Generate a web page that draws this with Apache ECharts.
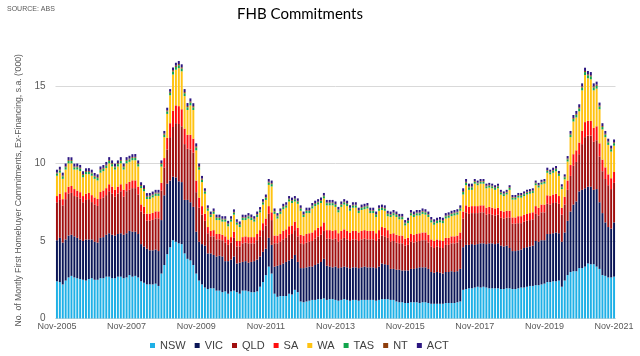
<!DOCTYPE html>
<html>
<head>
<meta charset="utf-8">
<script src="https://cdn.jsdelivr.net/npm/echarts@6/dist/echarts.min.js"></script>
<style>html,body{margin:0;padding:0;background:#fff}#c{width:640px;height:356px}</style>
</head>
<body>
<div id="c"></div>
<script>
// Monthly categories Nov-2005 .. Nov-2021
const monthNames = ['Jan','Feb','Mar','Apr','May','Jun','Jul','Aug','Sep','Oct','Nov','Dec'];
const categories = [];
for (let k = 0; k < 193; k++) {
  const m = (10 + k) % 12, y = 2005 + Math.floor((10 + k) / 12);
  categories.push(monthNames[m] + '-' + y);
}
const yTicks = [0, 5, 10, 15];

const nsw = [
2.4,2.35,2.2,2.45,2.65,2.75,2.65,2.6,2.55,2.5,2.45,2.55,
2.6,2.5,2.5,2.6,2.6,2.7,2.7,2.6,2.6,2.7,2.7,2.6,
2.65,2.8,2.7,2.75,2.65,2.4,2.3,2.2,2.2,2.2,2.25,2.1,
2.9,3.45,4.15,4.6,5.05,4.95,4.85,4.8,4.2,3.85,3.75,3.45,
2.9,2.45,2.2,2.0,1.9,1.95,1.95,1.8,1.8,1.7,1.75,1.6,
1.75,1.8,1.7,1.6,1.8,1.8,1.75,1.7,1.7,1.75,2.05,2.35,
2.8,3.35,2.9,1.6,1.4,1.45,1.45,1.45,1.6,1.55,1.85,1.7,
1.1,1.05,1.1,1.15,1.2,1.2,1.25,1.25,1.3,1.2,1.25,1.25,
1.2,1.15,1.2,1.25,1.2,1.15,1.2,1.2,1.15,1.2,1.2,1.2,
1.2,1.2,1.15,1.2,1.25,1.25,1.25,1.2,1.2,1.1,1.05,1.05,
1.0,1.0,1.05,1.05,1.05,1.0,1.05,1.05,1.0,0.95,0.95,0.95,
0.95,0.95,1.0,1.0,1.0,1.0,1.05,1.1,1.85,1.9,1.95,1.95,
2.0,2.05,2.0,2.05,2.0,1.95,1.95,1.95,1.95,1.9,1.9,1.95,
1.95,1.9,1.9,1.95,2.0,2.0,2.05,2.1,2.1,2.15,2.15,2.2,
2.25,2.35,2.35,2.4,2.4,2.45,2.05,2.45,2.8,3.0,3.05,3.05,
3.25,3.25,3.35,3.55,3.5,3.5,3.35,3.2,2.8,2.75,2.65,2.65,
2.7];
const vic = [
2.65,2.85,2.7,2.65,2.7,2.65,2.65,2.6,2.55,2.5,2.65,2.55,
2.5,2.45,2.4,2.6,2.65,2.7,2.8,2.8,2.75,2.75,2.8,2.8,
2.85,2.85,2.9,2.85,2.8,2.4,2.35,2.3,2.2,2.2,2.2,2.25,
3.45,4.5,4.55,4.3,4.1,4.15,4.0,4.0,3.45,3.8,3.75,3.75,
2.7,2.5,2.6,2.7,2.3,2.25,2.15,2.2,2.25,2.3,1.95,2.1,
2.05,2.2,1.85,2.0,1.85,1.9,1.85,1.95,2.0,2.05,1.95,1.95,
1.7,1.85,1.85,1.75,2.0,2.0,2.1,2.2,2.15,2.3,2.25,1.95,
2.15,2.2,2.2,2.2,2.15,2.25,2.3,2.4,2.55,2.2,2.1,2.05,
2.15,2.1,2.1,2.1,2.1,2.1,2.1,2.1,2.1,2.1,2.15,2.1,
2.1,2.1,2.1,2.15,2.3,2.25,2.2,2.0,2.0,2.05,2.1,2.05,
2.1,2.1,2.15,2.15,2.2,2.3,2.25,2.25,2.2,2.05,2.0,2.05,
2.0,1.95,2.0,2.0,2.05,2.0,2.0,2.1,2.75,2.85,2.8,2.85,
2.75,2.75,2.85,2.8,2.8,2.9,2.9,2.85,2.9,2.8,2.75,2.75,
2.6,2.45,2.45,2.45,2.45,2.55,2.55,2.55,2.6,2.85,2.8,2.85,
2.8,3.1,3.1,3.1,3.15,3.05,2.9,3.1,3.5,3.9,4.3,4.5,
4.95,5.05,5.05,4.95,5.0,4.8,5.0,4.3,4.0,3.45,3.25,3.15,
3.5];
const qld = [
2.45,2.45,2.4,2.6,2.7,2.7,2.6,2.65,2.65,2.5,2.55,2.6,
2.41,2.41,2.36,2.51,2.56,2.56,2.71,2.66,2.51,2.61,2.71,2.46,
2.71,2.66,2.81,2.81,2.56,2.11,2.11,1.81,1.91,1.96,2.01,2.11,
1.9,1.8,2.2,2.8,3.2,3.5,3.7,3.6,3.6,3.3,3.4,3.5,
2.55,2.2,1.9,1.6,1.3,1.1,1.2,1.1,1.05,1.05,1.2,1.05,
1.1,1.2,1.1,1.05,1.2,1.2,1.25,1.2,1.15,1.25,1.3,1.4,
1.5,1.55,1.6,1.5,1.45,1.5,1.55,1.55,1.65,1.6,1.6,1.65,
1.6,1.55,1.6,1.6,1.65,1.7,1.75,1.75,1.8,1.75,1.8,1.8,
1.8,1.7,1.8,1.85,1.8,1.75,1.8,1.8,1.75,1.8,1.8,1.8,
1.8,1.8,1.75,1.8,1.8,1.8,1.75,1.75,1.8,1.75,1.7,1.75,
1.6,1.65,1.75,1.7,1.7,1.7,1.75,1.75,1.7,1.65,1.6,1.65,
1.65,1.65,1.75,1.75,1.8,1.85,1.85,1.9,1.85,2.1,2.0,2.0,
2.05,2.0,2.0,2.0,1.9,1.9,1.85,1.85,1.85,1.8,1.8,1.8,
1.95,1.77,1.77,1.75,1.7,1.7,1.7,1.7,1.7,1.75,1.7,1.8,
1.8,1.95,1.9,1.95,1.95,1.9,1.75,1.8,2.0,2.3,2.5,2.55,
2.4,2.95,3.3,3.3,3.3,3.1,3.15,2.95,2.7,2.8,2.7,2.55,
2.55];
const sa = [
0.4,0.4,0.4,0.45,0.45,0.45,0.45,0.4,0.4,0.4,0.4,0.4,
0.45,0.45,0.45,0.45,0.45,0.45,0.45,0.45,0.45,0.45,0.45,0.45,
0.5,0.5,0.5,0.5,0.5,0.45,0.45,0.45,0.45,0.45,0.45,0.45,
0.5,0.6,0.75,0.9,1.05,1.15,1.15,1.1,1.0,0.9,0.95,0.9,
0.75,0.65,0.55,0.45,0.4,0.35,0.4,0.35,0.35,0.35,0.4,0.35,
0.35,0.4,0.35,0.35,0.4,0.4,0.4,0.4,0.4,0.4,0.4,0.45,
0.45,0.5,0.5,0.5,0.5,0.5,0.55,0.55,0.55,0.55,0.55,0.55,
0.55,0.55,0.55,0.55,0.55,0.55,0.55,0.55,0.55,0.55,0.55,0.55,
0.55,0.55,0.55,0.55,0.55,0.55,0.55,0.55,0.55,0.55,0.55,0.55,
0.55,0.55,0.5,0.55,0.55,0.55,0.5,0.5,0.5,0.5,0.5,0.5,
0.45,0.45,0.5,0.5,0.5,0.5,0.5,0.5,0.5,0.45,0.45,0.45,
0.45,0.45,0.45,0.45,0.45,0.45,0.45,0.45,0.45,0.45,0.45,0.45,
0.45,0.45,0.45,0.45,0.45,0.45,0.45,0.45,0.45,0.45,0.45,0.45,
0.45,0.4,0.4,0.45,0.45,0.45,0.45,0.45,0.45,0.5,0.5,0.5,
0.5,0.55,0.55,0.55,0.55,0.5,0.45,0.5,0.6,0.7,0.75,0.75,
0.75,0.87,0.97,0.95,0.95,0.9,0.9,0.85,0.75,0.75,0.7,0.7,
0.7];
const wa = [
1.31,1.36,1.31,1.46,1.51,1.46,1.26,1.36,1.36,1.21,1.26,1.21,
1.25,1.2,1.2,1.25,1.25,1.3,1.35,1.3,1.3,1.3,1.35,1.3,
1.3,1.3,1.3,1.3,1.3,1.05,1.0,0.95,0.95,1.0,1.0,1.0,
1.05,1.35,1.55,1.8,2.35,2.3,2.45,2.45,2.1,1.6,1.9,1.85,
1.95,1.8,1.55,1.3,1.05,0.9,1.05,0.9,0.9,0.85,0.95,0.85,
1.0,1.1,1.05,0.9,1.1,1.05,1.2,1.1,1.0,1.1,1.15,1.2,
1.2,1.37,1.67,1.4,1.1,1.3,1.4,1.4,1.6,1.45,1.3,1.55,
1.55,1.2,1.35,1.3,1.55,1.55,1.5,1.5,1.55,1.6,1.6,1.65,
1.5,1.35,1.55,1.6,1.6,1.4,1.5,1.5,1.25,1.35,1.35,1.45,
1.15,1.15,1.05,1.25,1.1,1.1,0.9,1.1,1.15,1.15,1.05,1.05,
0.85,0.95,1.2,1.15,1.2,1.15,1.2,1.15,1.15,1.1,1.05,1.05,
1.15,1.15,1.25,1.3,1.3,1.35,1.35,1.4,1.1,1.3,1.1,1.05,
1.45,1.35,1.4,1.4,1.25,1.25,1.25,1.2,1.25,1.05,1.0,1.05,
1.35,1.15,1.15,1.2,1.2,1.2,1.25,1.25,1.25,1.35,1.3,1.3,
1.35,1.45,1.4,1.4,1.45,1.3,1.2,1.13,1.23,1.8,2.11,2.12,
2.02,2.6,3.04,2.75,2.68,2.42,2.43,2.2,1.95,1.95,1.9,1.72,
1.7];
const tas = [
0.15,0.14,0.16,0.15,0.16,0.15,0.14,0.15,0.16,0.15,0.14,0.15,
0.15,0.14,0.15,0.16,0.15,0.15,0.16,0.15,0.14,0.15,0.16,0.15,
0.16,0.15,0.15,0.16,0.15,0.14,0.15,0.14,0.15,0.14,0.15,0.15,
0.16,0.16,0.16,0.16,0.18,0.18,0.19,0.18,0.18,0.18,0.18,0.17,
0.18,0.16,0.16,0.14,0.14,0.14,0.14,0.14,0.14,0.14,0.14,0.14,
0.14,0.13,0.14,0.15,0.14,0.13,0.14,0.15,0.14,0.14,0.13,0.14,
0.14,0.15,0.15,0.14,0.14,0.14,0.14,0.14,0.14,0.14,0.14,0.14,
0.14,0.14,0.14,0.14,0.14,0.14,0.14,0.14,0.14,0.14,0.14,0.14,
0.14,0.14,0.14,0.14,0.14,0.14,0.14,0.14,0.14,0.14,0.14,0.14,
0.14,0.14,0.14,0.14,0.14,0.14,0.14,0.14,0.14,0.14,0.14,0.14,
0.14,0.14,0.14,0.14,0.14,0.14,0.14,0.14,0.14,0.14,0.14,0.14,
0.14,0.14,0.14,0.14,0.14,0.14,0.14,0.14,0.16,0.16,0.16,0.16,
0.12,0.12,0.12,0.12,0.12,0.12,0.12,0.12,0.12,0.12,0.12,0.12,
0.12,0.12,0.12,0.12,0.12,0.12,0.12,0.12,0.12,0.12,0.12,0.12,
0.12,0.13,0.12,0.13,0.14,0.13,0.12,0.13,0.14,0.16,0.17,0.17,
0.18,0.18,0.19,0.19,0.19,0.18,0.18,0.17,0.16,0.16,0.16,0.15,
0.16];
const nt = [
0.06,0.06,0.06,0.06,0.06,0.06,0.06,0.06,0.06,0.06,0.06,0.06,
0.06,0.06,0.06,0.06,0.06,0.06,0.06,0.06,0.06,0.06,0.06,0.06,
0.06,0.06,0.06,0.06,0.06,0.06,0.06,0.06,0.06,0.06,0.06,0.06,
0.07,0.07,0.07,0.07,0.08,0.08,0.08,0.08,0.08,0.08,0.08,0.08,
0.08,0.07,0.07,0.05,0.05,0.05,0.05,0.05,0.05,0.05,0.05,0.05,
0.05,0.05,0.05,0.05,0.05,0.05,0.05,0.05,0.05,0.05,0.05,0.05,
0.05,0.06,0.06,0.05,0.05,0.05,0.05,0.05,0.05,0.05,0.05,0.05,
0.05,0.05,0.05,0.05,0.05,0.05,0.05,0.05,0.05,0.05,0.05,0.05,
0.05,0.05,0.05,0.05,0.05,0.05,0.05,0.05,0.05,0.05,0.05,0.05,
0.05,0.05,0.05,0.05,0.05,0.05,0.05,0.05,0.05,0.05,0.05,0.05,
0.05,0.05,0.05,0.05,0.05,0.05,0.05,0.05,0.05,0.05,0.05,0.05,
0.05,0.05,0.05,0.05,0.05,0.05,0.05,0.05,0.06,0.06,0.06,0.06,
0.05,0.05,0.05,0.05,0.05,0.05,0.05,0.05,0.05,0.05,0.05,0.05,
0.05,0.05,0.05,0.05,0.05,0.05,0.05,0.05,0.05,0.05,0.05,0.05,
0.05,0.05,0.05,0.05,0.05,0.05,0.05,0.05,0.05,0.06,0.06,0.06,
0.08,0.08,0.07,0.07,0.07,0.08,0.08,0.07,0.06,0.06,0.06,0.06,
0.06];
const act = [
0.18,0.18,0.18,0.18,0.18,0.18,0.18,0.18,0.18,0.18,0.18,0.18,
0.18,0.18,0.18,0.18,0.18,0.18,0.18,0.18,0.18,0.18,0.18,0.18,
0.18,0.18,0.18,0.18,0.18,0.18,0.18,0.18,0.18,0.18,0.18,0.18,
0.17,0.17,0.17,0.17,0.19,0.19,0.19,0.19,0.19,0.19,0.19,0.19,
0.19,0.17,0.17,0.16,0.16,0.16,0.16,0.16,0.16,0.16,0.16,0.16,
0.16,0.16,0.16,0.16,0.16,0.16,0.16,0.16,0.16,0.16,0.16,0.16,
0.16,0.17,0.17,0.16,0.16,0.16,0.16,0.16,0.16,0.16,0.16,0.16,
0.16,0.16,0.16,0.16,0.16,0.16,0.16,0.16,0.16,0.16,0.16,0.16,
0.16,0.16,0.16,0.16,0.16,0.16,0.16,0.16,0.16,0.16,0.16,0.16,
0.16,0.16,0.16,0.16,0.16,0.16,0.16,0.16,0.16,0.16,0.16,0.16,
0.16,0.16,0.16,0.16,0.16,0.16,0.16,0.16,0.16,0.16,0.16,0.16,
0.16,0.16,0.16,0.16,0.16,0.16,0.16,0.16,0.18,0.18,0.18,0.18,
0.13,0.13,0.13,0.13,0.13,0.13,0.13,0.13,0.13,0.13,0.13,0.13,
0.13,0.13,0.13,0.13,0.13,0.13,0.13,0.13,0.13,0.13,0.13,0.13,
0.13,0.15,0.13,0.15,0.15,0.14,0.14,0.14,0.16,0.18,0.19,0.19,
0.19,0.19,0.21,0.21,0.21,0.19,0.19,0.19,0.18,0.18,0.18,0.17,
0.18];

const seriesNames = ['NSW','VIC','QLD','SA','WA','TAS','NT','ACT'];
const seriesData = [nsw, vic, qld, sa, wa, tas, nt, act];
const colors = ['#1fb0e6','#0b1657','#a00f0f','#ff0d0d','#ffc312','#12a54c','#8e3d0c','#2c1680'];

const chart = echarts.init(document.getElementById('c'), null, {renderer: 'canvas'});
chart.setOption({
  animation: false,
  backgroundColor: '#ffffff',
  color: colors,
  title: [
    {text: 'FHB Commitments', left: 300, top: 7, textAlign: 'center', padding: 0,
     textStyle: {fontFamily: 'Lato', fontSize: 15, fontWeight: 'normal', color: '#000'}},
    {text: 'SOURCE: ABS', left: 7, top: 6, padding: 0,
     textStyle: {fontFamily: 'Liberation Sans', fontSize: 7, fontWeight: 'normal', color: '#595959'}}
  ],
  legend: {
    data: seriesNames, left: 150, top: 340, itemWidth: 5, itemHeight: 5, itemGap: 9, icon: 'rect', padding: 0,
    textStyle: {fontFamily: 'Liberation Sans', fontSize: 11, color: '#404040'}
  },
  grid: {left: 55.5, right: 24.5, top: 86, bottom: 37.5},
  xAxis: {
    type: 'category', data: categories,
    axisLine: {show: true, lineStyle: {color: '#d9d9d9'}},
    axisTick: {show: false},
    axisLabel: {interval: 23, margin: 4, fontFamily: 'Liberation Sans', fontSize: 9, color: '#595959'}
  },
  yAxis: {
    type: 'value', min: 0, max: 15, interval: 5,
    name: "No. of Montly First Homebuyer Commitments, Ex-Financing, s.a. ('000)",
    nameLocation: 'middle', nameGap: 28,
    nameTextStyle: {fontFamily: 'Liberation Sans', fontSize: 8.7, color: '#595959', padding: [0, 0, 0, 24]},
    axisLine: {show: false}, axisTick: {show: false},
    axisLabel: {margin: 10, fontFamily: 'Liberation Sans', fontSize: 10, color: '#595959',
      formatter: function (v) { return yTicks.indexOf(v) >= 0 ? String(v) : ''; }},
    splitLine: {lineStyle: {color: '#d9d9d9'}}
  },
  series: seriesNames.map(function (n, i) {
    return {name: n, type: 'bar', stack: 'total', data: seriesData[i], barCategoryGap: '32%',
            clip: false, itemStyle: {color: colors[i]}};
  })
});
</script>
</body>
</html>
